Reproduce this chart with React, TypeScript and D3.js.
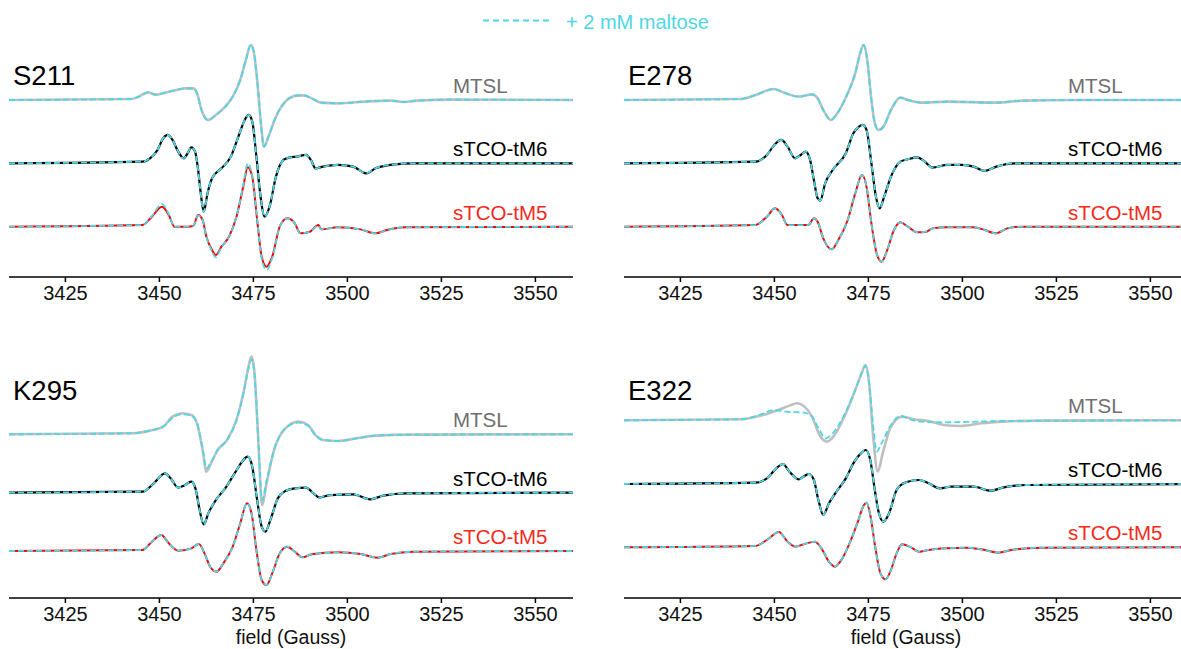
import React from 'react'
import * as d3 from 'd3'

// EPR spectra, field in Gauss, signal in arbitrary units (relative to baseline)

// S211
const s211MtslField = [3410, 3442.5, 3444.5, 3447, 3449, 3451.5, 3454.5, 3457, 3459, 3460, 3461.2, 3462.9, 3465, 3467.5, 3469.5, 3471.5, 3473, 3474.3, 3475, 3476, 3477, 3477.8, 3479, 3481, 3483.5, 3486.5, 3488.5, 3490.5, 3493, 3497.5, 3505.5, 3511.5, 3515, 3518.5, 3527.5, 3560]
const s211MtslSignal = [0, 3, 10, 23, 16, 22, 30, 35, 35, 20, -30, -60, -45, -20, 10, 60, 120, 165, 150, 60, -70, -140, -110, -50, -5, 13, 14, 5, -8, -10, -4, -2, -6, -2, 1, 0]

const s211M6Field = [3410, 3445.5, 3447.5, 3449.5, 3451, 3452.2, 3453.5, 3455, 3456.5, 3457.5, 3458.5, 3459.5, 3460.3, 3461, 3461.8, 3462.8, 3464, 3466.5, 3469, 3471, 3472.5, 3473.7, 3474.7, 3475.8, 3476.8, 3478, 3479.3, 3481, 3483, 3484.5, 3486.5, 3489, 3490.3, 3491.5, 3493.5, 3497.5, 3501.5, 3505, 3507.5, 3512.5, 3517.5, 3560]
const s211M6Signal = [0, 5, 15, 40, 75, 85, 70, 35, 15, 30, 48, 35, -20, -90, -145, -90, -45, -15, 20, 80, 125, 145, 125, 20, -90, -160, -130, -40, 10, 17, 20, 25, 10, -15, -10, -5, -10, -30, -15, -3, 0, 0]

const s211M5Field = [3410, 3445.5, 3448, 3450.7, 3452.5, 3454, 3457.5, 3459, 3460.3, 3461.5, 3462.5, 3464, 3465, 3466.5, 3468.5, 3470.5, 3472.3, 3473.5, 3474.7, 3476, 3477.2, 3478.5, 3480, 3482, 3484, 3486, 3487.5, 3490, 3492.3, 3493, 3497.5, 3503.5, 3507.5, 3510.5, 3515.5, 3560]
const s211M5Signal = [0, 5, 30, 60, 35, 0, 0, 2, 35, 20, -30, -70, -85, -60, -30, 30, 120, 178, 150, 20, -90, -120, -90, 0, 25, 10, -20, -15, 5, -8, -2, -8, -20, -10, -2, 0]
const s211M5Maltose = [0, 5, 32, 68, 38, 0, 0, 2, 33, 20, -30, -74, -92, -62, -30, 30, 125, 190, 150, 20, -96, -130, -94, 0, 25, 10, -20, -15, 3, -8, -2, -8, -20, -10, -2, 0]

// E278
const e278MtslField = [3410, 3441, 3445, 3449.8, 3453, 3456.5, 3460, 3461.5, 3463, 3465, 3467, 3469.5, 3471.5, 3472.8, 3473.7, 3474.7, 3475.7, 3476.7, 3477.7, 3479, 3481, 3483.5, 3485.5, 3489, 3496, 3509, 3516, 3531, 3560]
const e278MtslSignal = [0, 3, 15, 33, 20, 10, 17, 5, -30, -60, -35, 20, 80, 140, 165, 120, 10, -70, -90, -80, -30, 7, 0, -8, -5, -8, -2, 0, 0]

const e278M6Field = [3410, 3445, 3448, 3450, 3451.8, 3453.5, 3455.5, 3457, 3458.3, 3459.5, 3460.5, 3461.5, 3462.2, 3463.5, 3465.5, 3469, 3471, 3472.5, 3473.5, 3474.5, 3475.8, 3477, 3478, 3479.2, 3481, 3483.5, 3485.5, 3488, 3490, 3492, 3496, 3500, 3503, 3506, 3509, 3514, 3560]
const e278M6Signal = [0, 5, 25, 55, 70, 50, 15, 25, 35, 10, -50, -105, -112, -60, -20, 30, 90, 110, 115, 100, 0, -100, -135, -100, -40, 5, 12, 18, 5, -13, -5, -5, -10, -23, -10, 0, 0]

const e278M5Field = [3410, 3445, 3448, 3450.2, 3452, 3453.5, 3459, 3460.5, 3461.5, 3463, 3465.2, 3467, 3469.5, 3471.5, 3473.3, 3474.5, 3475.8, 3477.2, 3478.5, 3480, 3481.8, 3483.5, 3485.5, 3488, 3490.5, 3492, 3496, 3503, 3506, 3508.8, 3512, 3516, 3560]
const e278M5Signal = [0, 5, 30, 55, 35, 5, 5, 25, 15, -35, -68, -40, 20, 100, 155, 120, 10, -80, -105, -70, -10, 13, 0, -17, -15, -5, -2, -2, -10, -20, -5, 0, 0]

// K295
const k295MtslField = [3410, 3442.5, 3447.5, 3451, 3453.5, 3456, 3458.5, 3460, 3461.5, 3462.5, 3463.7, 3465.5, 3468, 3470.5, 3472.5, 3473.7, 3474.5, 3475.3, 3476.3, 3477.3, 3478.5, 3480.5, 3483.5, 3487, 3489.5, 3491.5, 3493.5, 3497.5, 3502.5, 3507.5, 3517.5, 3560]
const k295MtslSignal = [0, 3, 11, 23, 53, 63, 58, 33, -47, -112, -87, -47, -17, 43, 133, 203, 233, 183, -17, -212, -147, -47, 18, 38, 28, -2, -17, -20, -12, -4, -1, 0]
const k295MtslMaltose = [0, 3, 11, 23, 50, 60, 56, 33, -44, -102, -84, -47, -17, 43, 130, 198, 225, 178, -17, -198, -140, -47, 18, 35, 26, -2, -17, -20, -12, -4, -1, 0]

const k295M6Field = [3410, 3445.5, 3448.5, 3451.5, 3453, 3455, 3456.5, 3458.5, 3459.7, 3460.7, 3461.8, 3463, 3465, 3467.5, 3470, 3472, 3473.5, 3474.7, 3476, 3477.2, 3478.2, 3479.5, 3481.5, 3483.5, 3486, 3489, 3491, 3492.5, 3495.5, 3501.5, 3506, 3509.5, 3515.5, 3560]
const k295M6Signal = [0, 3, 28, 58, 43, 15, 21, 33, 8, -52, -95, -62, -22, 13, 58, 93, 108, 78, -22, -102, -117, -82, -17, 5, 13, 15, -2, -14, -7, -5, -20, -9, -2, 0]

const k295M5Field = [3410, 3445.5, 3448, 3450.5, 3452.5, 3455, 3458.5, 3460.5, 3462, 3463.5, 3465.2, 3467, 3469.5, 3471.5, 3473.3, 3474.5, 3475.8, 3477.2, 3478.5, 3480, 3482, 3484, 3486, 3488, 3490.5, 3497.5, 3503.5, 3508, 3511.5, 3517.5, 3560]
const k295M5Signal = [0, 3, 28, 48, 23, 1, 8, 21, -7, -47, -62, -37, 13, 83, 143, 113, 3, -87, -102, -67, -7, 13, -2, -19, -10, -4, -9, -20, -9, -2, 0]

// E322
const e322MtslField = [3410, 3441, 3446, 3451, 3454, 3456, 3458, 3460, 3462, 3464, 3466, 3469, 3471.5, 3473.2, 3474.2, 3475.2, 3476.2, 3477.5, 3478.8, 3481, 3484, 3487, 3491, 3495, 3499.5, 3505, 3511, 3521, 3560]
const e322MtslSignal = [0, 3, 13, 31, 44, 51, 41, 11, -44, -64, -44, 21, 91, 141, 166, 111, -39, -154, -99, -19, 11, 3, -2, -14, -17, -9, -4, -1, 0]
const e322MtslMaltoseField = [3410, 3441, 3446, 3450, 3453, 3458, 3460, 3462, 3463.5, 3465.5, 3469, 3471.5, 3473.2, 3474.2, 3475.2, 3476.2, 3477.2, 3478.5, 3481, 3483.5, 3486, 3489, 3495, 3501, 3511, 3560]
const e322MtslMaltose = [0, 3, 16, 31, 26, 23, 11, -29, -54, -39, 26, 91, 141, 163, 111, -9, -94, -69, -14, 13, 3, -4, -6, -5, -2, 0]

const e322M6Field = [3410, 3445, 3448, 3450.5, 3452.3, 3454, 3456.5, 3458, 3459.2, 3460.5, 3461.7, 3463, 3464.5, 3466.5, 3469, 3471, 3473, 3474.3, 3475.5, 3476.7, 3477.8, 3479, 3480.5, 3482.5, 3485, 3488.5, 3491, 3494, 3497, 3503, 3507.5, 3511, 3517, 3560]
const e322M6Signal = [0, 4, 17, 47, 60, 37, 14, 24, 30, 12, -48, -93, -58, -23, 17, 62, 92, 102, 72, -18, -88, -113, -88, -18, 5, 12, 2, -13, -8, -8, -20, -10, -3, 0]

const e322M5Field = [3410, 3445, 3448, 3451.2, 3453.5, 3455.5, 3458, 3460.8, 3462.5, 3464.5, 3466, 3467.5, 3470, 3472.2, 3473.8, 3474.5, 3475.5, 3476.8, 3478.2, 3479.6, 3481, 3482.5, 3484, 3486, 3488.5, 3491, 3496, 3501, 3505, 3509.5, 3513, 3521, 3560]
const e322M5Signal = [0, 4, 22, 46, 17, 2, 10, 17, -3, -43, -58, -43, 12, 77, 127, 134, 97, 2, -78, -96, -68, -18, 9, 2, -13, -8, -3, -1, -6, -16, -8, -1, 0]

const fieldTicks = [3425, 3450, 3475, 3500, 3525, 3550]
const traceNames = ['MTSL', 'sTCO-tM6', 'sTCO-tM5']

const FONT = 'Liberation Sans, Arial, Helvetica, sans-serif'
const CYAN = '#4fd6e4'
const lineColors = ['#bfbfbf', '#000000', '#ff0000']
const labelColors = ['#6f6f6f', '#000000', '#f4291d']
const lineWidths = [2.6, 2.2, 2]

type Trace = { field: number[]; signal: number[]; mField: number[]; mSignal: number[] }

const tr = (field: number[], signal: number[], mSignal = signal, mField = field): Trace =>
  ({ field, signal, mField, mSignal })

const panels = [
  {
    name: 'S211', x0: 9, axisY: 277, base: [100, 163.3, 226.7], xLabel: false,
    traces: [tr(s211MtslField, s211MtslSignal), tr(s211M6Field, s211M6Signal), tr(s211M5Field, s211M5Signal, s211M5Maltose)]
  },
  {
    name: 'E278', x0: 624, axisY: 277, base: [100, 163.3, 226.7], xLabel: false,
    traces: [tr(e278MtslField, e278MtslSignal), tr(e278M6Field, e278M6Signal), tr(e278M5Field, e278M5Signal)]
  },
  {
    name: 'K295', x0: 9, axisY: 598, base: [434.3, 492.7, 551], xLabel: true,
    traces: [tr(k295MtslField, k295MtslSignal, k295MtslMaltose), tr(k295M6Field, k295M6Signal), tr(k295M5Field, k295M5Signal)]
  },
  {
    name: 'E322', x0: 624, axisY: 598, base: [420.3, 484, 547.3], xLabel: true,
    traces: [tr(e322MtslField, e322MtslSignal, e322MtslMaltose, e322MtslMaltoseField), tr(e322M6Field, e322M6Signal), tr(e322M5Field, e322M5Signal)]
  }
]

const amp = d3.scaleLinear().domain([0, 3]).range([0, -1])

const Panel = ({ p }: { p: typeof panels[number] }) => {
  const x = d3.scaleLinear().domain([3410, 3560]).range([p.x0, p.x0 + 564])
  const mk = (field: number[], signal: number[], b: number) =>
    d3.line<number>()
      .x((_, i) => x(field[i]))
      .y(d => b + amp(d))
      .curve(d3.curveMonotoneX)(signal) || ''

  return (
    <g>
      <text x={p.x0 + 4} y={p.axisY === 277 ? 85 : 400} fontSize={27.5} fontFamily={FONT} fill="#000">{p.name}</text>
      {p.traces.map((t, i) => (
        <g key={i}>
          <path d={mk(t.field, t.signal, p.base[i])} fill="none" stroke={lineColors[i]} strokeWidth={lineWidths[i]} strokeLinejoin="round" />
          <path d={mk(t.mField, t.mSignal, p.base[i])} fill="none" stroke={CYAN} strokeWidth={1.8} strokeDasharray="6,3" />
          <text x={p.x0 + 444} y={p.base[i] - 7} fontSize={20.5} fontFamily={FONT} fill={labelColors[i]}>{traceNames[i]}</text>
        </g>
      ))}
      <line x1={x.range()[0]} x2={x.range()[1]} y1={p.axisY} y2={p.axisY} stroke="#000" strokeWidth={1.5} />
      {fieldTicks.map(t => (
        <g key={t} transform={`translate(${x(t)},${p.axisY})`}>
          <line y1={0} y2={5} stroke="#000" strokeWidth={1.5} />
          <text y={22.5} textAnchor="middle" fontSize={20} fontFamily={FONT} fill="#111">{t}</text>
        </g>
      ))}
      {p.xLabel && (
        <text x={(x.range()[0] + x.range()[1]) / 2} y={644} textAnchor="middle" fontSize={19.5} fontFamily={FONT} fill="#111">field (Gauss)</text>
      )}
    </g>
  )
}

export default function App() {
  return (
    <svg width={1181} height={649} style={{ position: 'absolute', left: 0, top: 0, background: '#fff' }}>
      <line x1={483} x2={552} y1={20.5} y2={20.5} stroke={CYAN} strokeWidth={2} strokeDasharray="6,4" />
      <text x={566} y={29} fontSize={20} fontFamily={FONT} fill={CYAN}>+ 2 mM maltose</text>
      {panels.map(p => <Panel key={p.name} p={p} />)}
    </svg>
  )
}
